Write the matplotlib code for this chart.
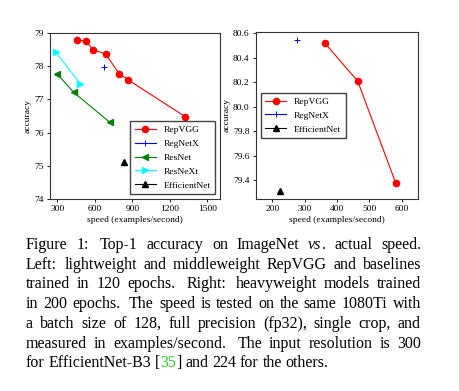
import matplotlib
matplotlib.use('Agg')
import matplotlib.pyplot as plt

plt.rcParams['font.family'] = 'Liberation Serif'

# left panel: lightweight / middleweight, 120 epochs
repvgg_speed = [460, 529, 581, 685, 792, 868, 1322]
repvgg_acc = [78.78, 78.76, 78.50, 78.37, 77.78, 77.58, 76.48]
regnet_speed = [671]
regnet_acc = [77.98]
resnet_speed = [295, 430, 719]
resnet_acc = [77.78, 77.21, 76.31]
resnext_speed = [287, 484]
resnext_acc = [78.42, 77.46]
effnet_speed = [829]
effnet_acc = [75.11]

# right panel: heavyweight, 200 epochs
h_repvgg_speed = [363, 464, 581]
h_repvgg_acc = [80.52, 80.21, 79.38]
h_regnet_speed = [277]
h_regnet_acc = [80.55]
h_effnet_speed = [224]
h_effnet_acc = [79.31]

W, H = 460, 391
fig = plt.figure(figsize=(W / 100, H / 100), dpi=100)

def px_axes(l, t, r, b):
    return fig.add_axes([l / W, 1 - b / H, (r - l) / W, (b - t) / H])

fs = 6.8
ms = 4.5

ax1 = px_axes(50, 33, 220, 199)
ax1.plot(repvgg_speed, repvgg_acc, 'o-', color='red', ms=ms, lw=0.8, label='RepVGG')
ax1.plot(regnet_speed, regnet_acc, '+-', color='blue', ms=ms, lw=0.8, mew=0.7, label='RegNetX')
ax1.plot(resnet_speed, resnet_acc, '<-', color='green', ms=ms, lw=0.8, label='ResNet')
ax1.plot(resnext_speed, resnext_acc, '>-', color='cyan', ms=ms, lw=0.8, label='ResNeXt')
ax1.plot(effnet_speed, effnet_acc, '^-', color='black', ms=ms, lw=0.8, label='EfficientNet')
ax1.set_xlim(240, 1600)
ax1.set_ylim(74, 79)
ax1.set_xticks([300, 600, 900, 1200, 1500])
ax1.set_yticks([74, 75, 76, 77, 78, 79])
ax1.set_xlabel('speed (examples/second)', fontsize=fs, labelpad=2)
ax1.set_ylabel('accuracy', fontsize=fs, labelpad=2)
ax1.legend(loc='lower right', fontsize=fs, handlelength=2.2, borderpad=0.5,
           labelspacing=0.55, fancybox=False, edgecolor='#444', framealpha=1)

ax2 = px_axes(256, 32, 418, 199)
ax2.plot(h_repvgg_speed, h_repvgg_acc, 'o-', color='red', ms=ms, lw=0.8, label='RepVGG')
ax2.plot(h_regnet_speed, h_regnet_acc, '+-', color='blue', ms=ms, lw=0.8, mew=0.7, label='RegNetX')
ax2.plot(h_effnet_speed, h_effnet_acc, '^-', color='black', ms=ms, lw=0.8, label='EfficientNet')
ax2.set_xlim(150, 650)
ax2.set_ylim(79.248, 80.612)
ax2.set_xticks([200, 300, 400, 500, 600])
ax2.set_yticks([79.4, 79.6, 79.8, 80.0, 80.2, 80.4, 80.6])
ax2.set_xlabel('speed (examples/second)', fontsize=fs, labelpad=2)
ax2.set_ylabel('accuracy', fontsize=fs, labelpad=2)
ax2.legend(loc='center left', fontsize=fs, handlelength=2.2, borderpad=0.5,
           labelspacing=0.55, fancybox=False, edgecolor='#444', framealpha=1)

for ax in (ax1, ax2):
    ax.tick_params(labelsize=fs, length=2.5, width=0.6, pad=2)
    for s in ax.spines.values():
        s.set_linewidth(0.8)
        s.set_color('#333')

# caption, justified word by word (wider space after sentence ends)
cap_lines = [
    [[('Figure', {})], [('1:', {})], [('Top-1', {})], [('accuracy', {})], [('on', {})],
     [('ImageNet', {})], [('vs', {'style': 'italic'}), ('.', {})], [('actual', {})], [('speed.', {})]],
    'Left: lightweight and middleweight RepVGG and baselines',
    'trained in 120 epochs. Right: heavyweight models trained',
    'in 200 epochs. The speed is tested on the same 1080Ti with',
    'a batch size of 128, full precision (fp32), single crop, and',
    'measured in examples/second. The input resolution is 300',
    [[('for', {})], [('EfficientNet-B3', {})], [('[', {}), ('35', {'color': '#22cc22'}), (']', {})],
     [('and', {})], [('224', {})], [('for', {})], [('the', {})], [('others.', {})]],
]
cap_fs = 11.5
x_left, x_right = 26, 421
y0, dy = 245, 19.7
renderer = fig.canvas.get_renderer()

for i, line in enumerate(cap_lines):
    if isinstance(line, str):
        line = [[(w, {})] for w in line.split()]
    y = 1 - (y0 + i * dy) / H
    words = []
    for word in line:
        parts = []
        for txt, kw in word:
            t = fig.text(0, y, txt, fontsize=cap_fs, va='center', ha='left', **kw)
            w = t.get_window_extent(renderer).width
            parts.append((t, w))
        words.append(parts)
    widths = [sum(w for _, w in p) for p in words]
    # gap weights: sentence ends get a bit more room
    weights = []
    for parts in words[:-1]:
        whole = ''.join(p[0].get_text() for p in parts)
        if whole.endswith('.') and whole != 'vs.':
            weights.append(1.6)
        elif whole.endswith(':'):
            weights.append(1.3)
        else:
            weights.append(1.0)
    last = i == len(cap_lines) - 1
    if last:
        unit = 3.8
    else:
        unit = (x_right - x_left - sum(widths)) / sum(weights)
    x = x_left
    for k, (parts, wd) in enumerate(zip(words, widths)):
        xx = x
        for t, w in parts:
            t.set_x(xx / W)
            xx += w
        if k < len(weights):
            x += wd + unit * weights[k]

fig.savefig('out.png', dpi=100)
